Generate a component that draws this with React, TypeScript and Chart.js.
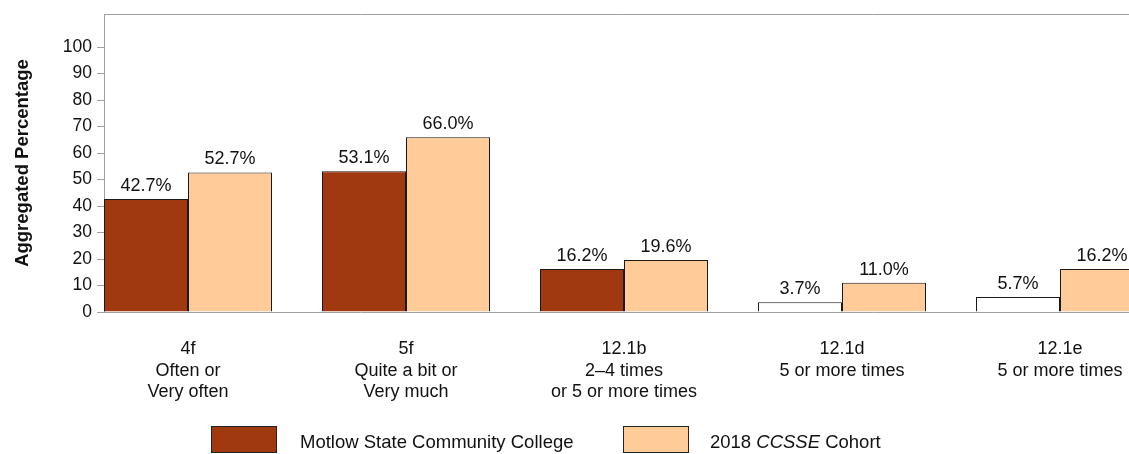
import React, { useEffect, useRef } from "react";
import { Chart, registerables } from "chart.js";

Chart.register(...registerables);

const categories: string[][] = [
  ["4f", "Often or", "Very often"],
  ["5f", "Quite a bit or", "Very much"],
  ["12.1b", "2–4 times", "or 5 or more times"],
  ["12.1d", "5 or more times"],
  ["12.1e", "5 or more times"],
];
const collegeValues = [42.7, 53.1, 16.2, 3.7, 5.7];
const cohortValues = [52.7, 66.0, 19.6, 11.0, 16.2];
const collegeColors = ["#A0390F", "#A0390F", "#A0390F", "#FFFFFF", "#FFFFFF"];
const yTicks = [0, 10, 20, 30, 40, 50, 60, 70, 80, 90, 100];
const collegeName = "Motlow State Community College";
const cohortName = "CCSSE";
const yTitle = "Aggregated Percentage";

const FONT = "'Liberation Sans', Arial, sans-serif";
const AXIS = "#A0A0A0";
const DARK = "#A0390F";
const LIGHT = "#FFCC99";

export default function App() {
  const ref = useRef<HTMLCanvasElement | null>(null);

  useEffect(() => {
    if (!ref.current) return;
    const labelPlugin = {
      id: "extras",
      afterDatasetsDraw(chart: any) {
        const ctx = chart.ctx;
        const { left, right, top, bottom } = chart.chartArea;
        ctx.save();
        // top border
        ctx.strokeStyle = AXIS;
        ctx.lineWidth = 1;
        ctx.beginPath();
        ctx.moveTo(left, Math.round(top) + 0.5);
        ctx.lineTo(right, Math.round(top) + 0.5);
        ctx.stroke();
        // value labels
        ctx.fillStyle = "#111";
        ctx.font = `18px ${FONT}`;
        ctx.textAlign = "center";
        ctx.textBaseline = "alphabetic";
        chart.data.datasets.forEach((ds: any, di: number) => {
          const meta = chart.getDatasetMeta(di);
          meta.data.forEach((bar: any, i: number) => {
            const v = ds.data[i].y;
            ctx.fillText(v.toFixed(1) + "%", bar.x, bar.y - 8);
          });
        });
        // y title
        ctx.font = `bold 18.5px ${FONT}`;
        ctx.translate(23, (top + bottom) / 2);
        ctx.rotate(-Math.PI / 2);
        ctx.textBaseline = "middle";
        ctx.fillText(yTitle, 0, 0);
        ctx.restore();
      },
    };

    const xMin = (104 - 188) / 218;
    const chart = new Chart(ref.current, {
      type: "bar",
      data: {
        datasets: [
          {
            label: collegeName,
            data: collegeValues.map((v, i) => ({ x: i, y: v })),
            backgroundColor: collegeColors,
            borderColor: "#1A1A1A",
            borderWidth: 1,
          },
          {
            label: "2018 " + cohortName + " Cohort",
            data: cohortValues.map((v, i) => ({ x: i, y: v })),
            backgroundColor: LIGHT,
            borderColor: "#1A1A1A",
            borderWidth: 1,
          },
        ],
      },
      options: {
        responsive: false,
        animation: false,
        devicePixelRatio: 1,
        layout: { padding: { top: 14, left: 0, right: 0, bottom: 0 } },
        datasets: {
          bar: { categoryPercentage: 168 / 218, barPercentage: 1 },
        },
        plugins: {
          legend: { display: false },
          tooltip: { enabled: false },
        },
        scales: {
          x: {
            type: "linear",
            offset: false,
            min: xMin,
            max: xMin + 1025 / 218,
            afterBuildTicks: (scale: any) => {
              scale.ticks = categories.map((_, i) => ({ value: i }));
            },
            afterFit: (scale: any) => {
              scale.height = 142;
              scale.paddingLeft = 0;
              scale.paddingRight = 0;
            },
            ticks: {
              autoSkip: false,
              maxRotation: 0,
              padding: 27,
              color: "#111",
              font: { family: FONT, size: 18, lineHeight: 1.17 },
              callback: (v: any) => categories[Math.round(Number(v))],
            },
            grid: { display: false, drawTicks: false, offset: false },
            border: { display: true, color: AXIS, width: 1 },
          },
          y: {
            min: 0,
            max: 112.5,
            afterBuildTicks: (scale: any) => {
              scale.ticks = yTicks.map((v) => ({ value: v }));
            },
            afterFit: (scale: any) => {
              scale.width = 104;
              scale.paddingTop = 0;
              scale.paddingBottom = 0;
            },
            ticks: {
              padding: 5,
              color: "#111",
              font: { family: FONT, size: 17.5 },
            },
            grid: {
              drawOnChartArea: false,
              drawTicks: true,
              tickLength: 7,
              color: AXIS,
            },
            border: { display: true, color: AXIS, width: 1 },
          },
        },
      },
      plugins: [labelPlugin],
    });
    return () => chart.destroy();
  }, []);

  const box = (bg: string, left: number) => ({
    position: "absolute" as const,
    left,
    top: 426,
    width: 66,
    height: 27,
    background: bg,
    border: "1px solid #222",
    boxSizing: "border-box" as const,
  });
  const txt = (left: number) => ({
    position: "absolute" as const,
    left,
    top: 431,
    fontFamily: FONT,
    fontSize: 18.5,
    lineHeight: "21px",
    color: "#111",
    whiteSpace: "nowrap" as const,
  });

  return (
    <div
      style={{
        position: "fixed",
        left: 0,
        top: 0,
        width: 1129,
        height: 454,
        overflow: "hidden",
        background: "#fff",
      }}
    >
      <canvas ref={ref} width={1129} height={454} style={{ display: "block", width: 1129, height: 454 }} />
      <div style={box(DARK, 211)} />
      <div style={txt(300)}>{collegeName}</div>
      <div style={box(LIGHT, 623)} />
      <div style={txt(710)}>
        2018 <i>{cohortName}</i> Cohort
      </div>
    </div>
  );
}
